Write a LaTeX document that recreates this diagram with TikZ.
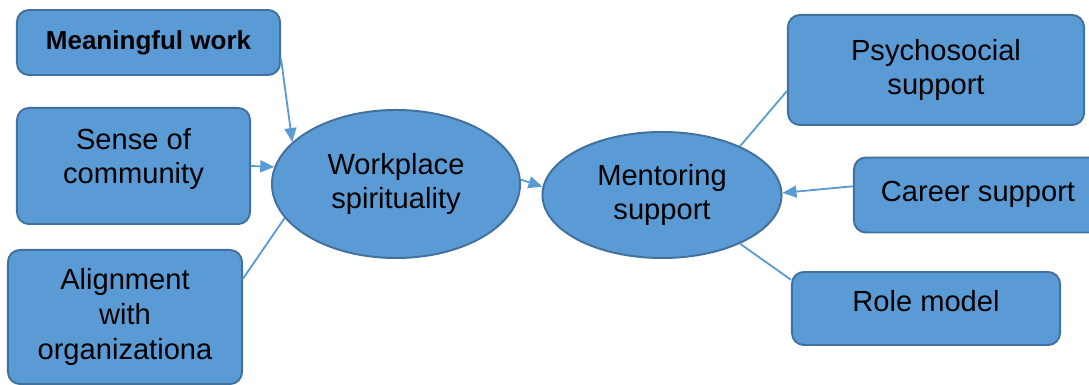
\documentclass[tikz,border=0pt]{standalone}
\usepackage{fontspec}
\setmainfont{Liberation Sans}
\usetikzlibrary{shapes.geometric,arrows.meta}
\definecolor{boxfill}{RGB}{91,155,213}
\definecolor{boxline}{RGB}{65,113,156}
\tikzset{
  box/.style={draw=boxline, fill=boxfill, line width=1.4pt, rounded corners=0.3cm,
    align=center, inner sep=0pt, font=\fontsize{20.7}{24.8}\selectfont},
  oval/.style={ellipse, draw=boxline, fill=boxfill, line width=1.4pt,
    align=center, inner sep=0pt, font=\fontsize{20.7}{24.8}\selectfont},
  link/.style={draw=boxfill, line width=1.3pt},
  arrowlink/.style={link, -{Triangle[length=10pt,width=8.5pt]}}
}
\begin{document}
\begin{tikzpicture}[x=0.025cm, y=-0.025cm]
\useasboundingbox (0,0) rectangle (1089,385);

\node[box, minimum width=6.575cm, minimum height=1.625cm, font=\fontsize{18.5}{22}\selectfont\bfseries] (mw) at (148.5,42.5) {Meaningful work};
\node[box, minimum width=5.825cm, minimum height=2.9cm, text depth=0.5cm] (sc) at (133.5,166) {Sense of\\community};
\node[box, minimum width=5.85cm, minimum height=3.35cm] (al) at (125,317) {Alignment\\with\\organizationa};

\node[oval, minimum width=6.2cm, minimum height=3.7cm] (ws) at (396,184) {Workplace\\spirituality};
\node[oval, minimum width=5.975cm, minimum height=3.15cm] (ms) at (662,195) {Mentoring\\support};

\node[box, minimum width=7.4cm, minimum height=2.75cm] (ps) at (936,70) {Psychosocial\\support};
\node[box, minimum width=6.2cm, minimum height=1.875cm, text depth=0.2cm] (cs) at (978,195) {Career support};
\node[box, minimum width=6.7cm, minimum height=1.825cm, text depth=0.4cm] (rm) at (926,308.5) {Role model};

\draw[arrowlink] (mw.-7.6) -- (ws.158.7);
\draw[arrowlink] (sc.east) -- (ws.172.8);
\draw[link] (al.18) -- (ws.197.7);
\draw[arrowlink] (ws.2) -- (ms.176.6);
\draw[link] (ps.188) -- (ms.32.6);
\draw[arrowlink] (cs.176) -- (ms.1);
\draw[link] (rm.168) -- (ms.328.7);
\end{tikzpicture}
\end{document}
